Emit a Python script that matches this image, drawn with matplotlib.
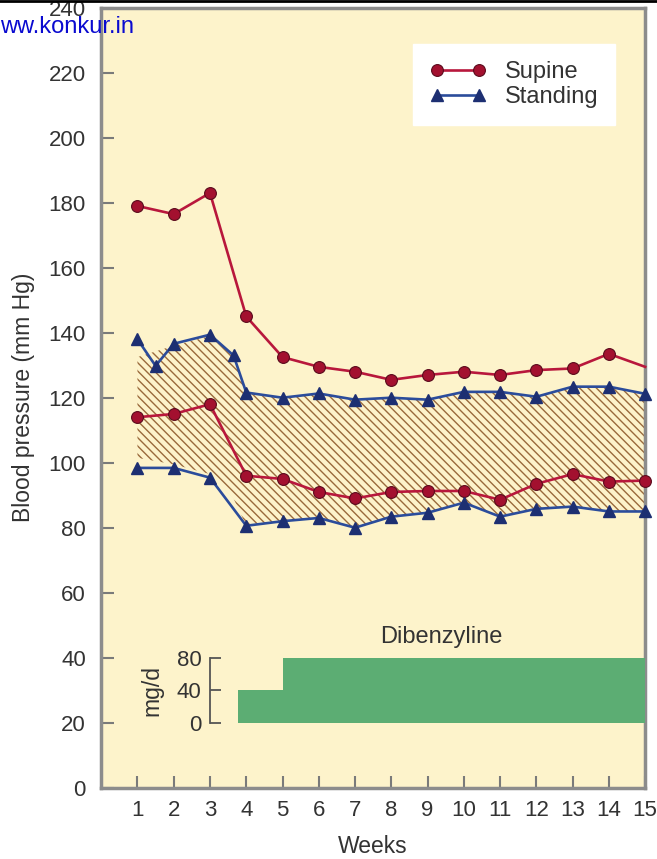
import matplotlib
matplotlib.use("Agg")
import matplotlib.pyplot as plt
from matplotlib.lines import Line2D
import numpy as np

plt.rcParams['font.family'] = ['Liberation Sans', 'DejaVu Sans']
plt.rcParams['hatch.linewidth'] = 1.0
plt.rcParams['hatch.color'] = '#9a6a3c'

# ---- data ----
weeks = [1, 2, 3, 4, 5, 6, 7, 8, 9, 10, 11, 12, 13, 14, 15]
supine_systolic = [179, 176.5, 183, 145, 132.5, 129.5, 128, 125.5, 127, 128, 127, 128.5, 129, 133.5, 129.5]
supine_diastolic = [114, 115, 118, 96, 95, 91, 89, 91, 91.3, 91.3, 88.6, 93.5, 96.5, 94.2, 94.5]
standing_weeks = [1, 1.5, 2, 3, 3.65, 4, 5, 6, 7, 8, 9, 10, 11, 12, 13, 14, 15]
standing_systolic = [138, 129.8, 136.6, 139.4, 133, 121.6, 120, 121.3, 119.4, 120, 119.4, 121.8, 121.8, 120.3, 123.4, 123.4, 121.2]
standing_diastolic = [98.4, 98.4, 95.4, 80.6, 82, 83, 80, 83.4, 84.6, 87.7, 83.4, 85.8, 86.5, 85, 85]
band_weeks = [1, 2, 3, 3.65, 4, 5, 6, 7, 8, 9, 10, 11, 12, 13, 14, 15]
band_high = [132.5, 136, 139, 133, 121.6, 120, 121.3, 119.4, 120, 119.4, 121.8, 121.8, 120.3, 123.4, 123.4, 121.2]
band_low = [101.5, 99.5, 96.5, 89, 80.6, 82, 83, 80, 83.4, 84.6, 87.7, 83.4, 85.8, 86.5, 85, 85]
dose_edges = [3.78, 5, 15]
dose_mg = [40, 80]
yticks = [0, 20, 40, 60, 80, 100, 120, 140, 160, 180, 200, 220, 240]
dose_ticks = [0, 40, 80]

red = '#b8173c'
red_m = '#a3102f'
blue = '#2b4c9b'
blue_m = '#1d2f72'
bg = '#fdf3cb'
spine_c = '#8c8c8c'
txt = '#333333'

fig = plt.figure(figsize=(6.57, 8.59), dpi=100)
ax = fig.add_axes([0.154, 0.083, 0.828, 0.908])
ax.set_facecolor(bg)
ax.set_xlim(0, 15)
ax.set_ylim(0, 240)

# hatched band
ax.fill_between(band_weeks, band_low, band_high, facecolor='none', edgecolor='#9a6a3c',
                hatch='\\\\\\\\', linewidth=0, zorder=1)

# lines
ax.plot(weeks, supine_systolic, color=red, lw=1.9, marker='o', ms=8.5,
        mfc=red_m, mec='#5a0a1c', mew=0.8, markevery=list(range(14)), zorder=3, clip_on=False)
ax.plot(weeks, supine_diastolic, color=red, lw=1.9, marker='o', ms=8.5,
        mfc=red_m, mec='#5a0a1c', mew=0.8, zorder=3, clip_on=False)
ax.plot(standing_weeks, standing_systolic, color=blue, lw=1.9, marker='^', ms=8,
        mfc=blue_m, mec=blue_m, zorder=3, clip_on=False)
ax.plot(weeks, standing_diastolic, color=blue, lw=1.9, marker='^', ms=8,
        mfc=blue_m, mec=blue_m, zorder=3, clip_on=False)

# axes styling
for s in ax.spines.values():
    s.set_color(spine_c)
    s.set_linewidth(2.5)
ax.set_yticks(yticks)
ax.set_xticks(weeks)
ax.tick_params(axis='both', direction='in', length=9, width=1.5, color='#7a7a7a',
               labelsize=16, labelcolor=txt)
ax.tick_params(axis='y', pad=11)
ax.tick_params(axis='x', pad=9)
ax.set_ylabel('Blood pressure (mm Hg)', fontsize=16.5, color=txt, labelpad=10)
ax.set_xlabel('Weeks', fontsize=16.5, color=txt, labelpad=10)

# legend
h1 = Line2D([0], [0], color=red, lw=1.9, marker='o', ms=8.5, mfc=red_m, mec='#5a0a1c', mew=0.8)
h2 = Line2D([0], [0], color=blue, lw=1.9, marker='^', ms=8, mfc=blue_m, mec=blue_m)
leg = ax.legend([h1, h2], ['Supine', 'Standing'], loc='upper right',
                bbox_to_anchor=(0.945, 0.953), numpoints=2, handlelength=2.4,
                fontsize=17, frameon=True, fancybox=False, framealpha=1,
                edgecolor='white', borderpad=0.7, labelspacing=0.15, handletextpad=0.8,
                borderaxespad=0)
for t in leg.get_texts():
    t.set_color(txt)

# dose inset
axi = ax.inset_axes([3.0, 20, 12.0, 20], transform=ax.transData)
axi.set_xlim(3.0, 15)
axi.set_ylim(0, 80)
axi.patch.set_alpha(0)
axi.stairs(dose_mg, dose_edges, fill=True, color='#5cad73', baseline=0)
for k in ['top', 'right', 'bottom']:
    axi.spines[k].set_visible(False)
axi.spines['left'].set_color('#555555')
axi.spines['left'].set_linewidth(1.3)
axi.set_xticks([])
axi.set_yticks(dose_ticks)
axi.tick_params(axis='y', direction='in', length=8, width=1.3, color='#555555',
                labelsize=16, labelcolor=txt, pad=6)
axi.set_ylabel('mg/d', fontsize=16.5, color=txt, labelpad=10)
axi.text(9.37, 106, 'Dibenzyline', fontsize=17, color=txt, ha='center', va='center')

# watermark and top border
fig.text(0.0, 0.969, 'ww.konkur.in', fontsize=17, color='#0a0ad0', ha='left', va='center')
fig.add_artist(Line2D([0, 1], [0.999, 0.999], color='black', lw=2, transform=fig.transFigure))

fig.savefig('out.png', dpi=100, facecolor='white')
